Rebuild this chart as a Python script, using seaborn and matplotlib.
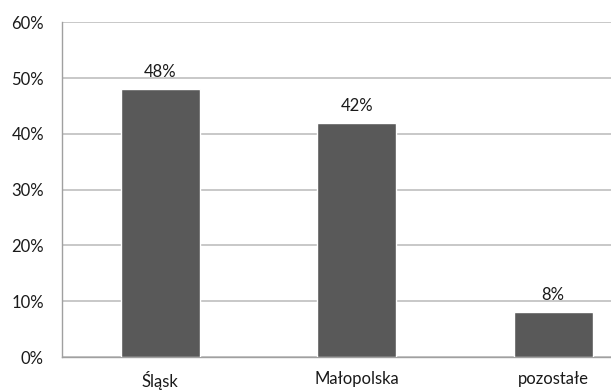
import matplotlib
matplotlib.use("Agg")
import matplotlib.pyplot as plt
import seaborn as sns
import pandas as pd

regions = ["Śląsk", "Małopolska", "pozostałe"]
shares = [48, 42, 8]
value_labels = ["48%", "42%", "8%"]
y_ticks = [0, 10, 20, 30, 40, 50, 60]
y_tick_labels = ["0%", "10%", "20%", "30%", "40%", "50%", "60%"]

df = pd.DataFrame({"region": regions, "share": shares})

sns.set_style("white")
plt.rcParams["font.family"] = ["Lato", "DejaVu Sans"]

fig = plt.figure(figsize=(6.11, 3.92), dpi=100)
ax = fig.add_axes([62 / 611, 35 / 392, 1 - 62 / 611, (357 - 22.3) / 392])

sns.barplot(data=df, x="region", y="share", color="#595959", width=0.4,
            saturation=1, ax=ax, zorder=3)

fs = 12
ax.set_xlim(-0.5, 2.294)
ax.set_ylim(0, 60)
ax.set_yticks(y_ticks)
ax.set_yticklabels(y_tick_labels, fontsize=fs, color="#1a1a1a")
ax.yaxis.grid(True, color="#bfbfbf", linewidth=1.2, zorder=0)
ax.set_axisbelow(True)

ax.set_xticks(range(len(regions)))
ax.set_xticklabels(regions, fontsize=fs, color="#1a1a1a")
ax.set_xticks([-0.5, 0.5, 1.5], minor=True)
ax.tick_params(axis="x", which="major", length=0, pad=10)
ax.tick_params(axis="x", which="minor", length=5, width=1, color="#a0a0a0", direction="out")
ax.tick_params(axis="y", length=5, width=1, color="#a0a0a0", direction="out", pad=8)

ax.set_xlabel("")
ax.set_ylabel("")

for side in ["top", "right"]:
    ax.spines[side].set_visible(False)
for side in ["left", "bottom"]:
    ax.spines[side].set_color("#a0a0a0")
    ax.spines[side].set_linewidth(1)

for i, (v, lab) in enumerate(zip(shares, value_labels)):
    ax.annotate(lab, (i, v), xytext=(0, 6.5), textcoords="offset points",
                ha="center", va="bottom", fontsize=fs, color="#1a1a1a")

fig.savefig("out.png", dpi=100)
